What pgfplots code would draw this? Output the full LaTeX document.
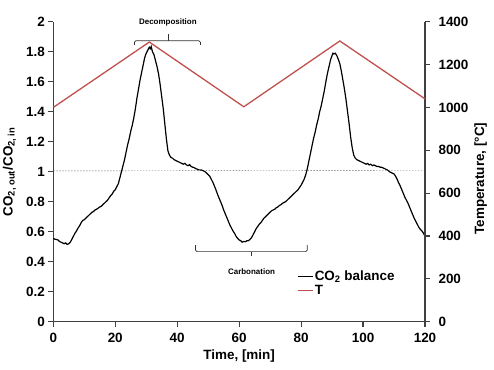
\documentclass[border=0pt]{standalone}
\usepackage{fontspec}
\setmainfont{Liberation Sans}
\usepackage{pgfplots}
\pgfplotsset{compat=1.18}
\definecolor{tred}{RGB}{192,80,77}
\definecolor{axgray}{RGB}{64,64,64}
\begin{document}
\begin{tikzpicture}
\useasboundingbox (-53.3bp,-48.3bp) rectangle (440.7bp,321.7bp);
\pgfplotsset{
 every axis/.append style={
  scale only axis, width=371.7bp, height=300bp, at={(0,0)}, anchor=south west,
  xmin=0, xmax=120,
  tick align=outside,
  major tick length=5bp,
  every tick/.style={axgray, line width=1.2pt},
  axis line style={axgray, line width=1.6pt},
  ticklabel style={font=\bfseries\fontsize{13.5}{16}\selectfont},
  label style={font=\bfseries\fontsize{13.5}{16}\selectfont},
  /pgf/number format/assume math mode=true,
  /pgf/number format/1000 sep={},
 }}
\begin{axis}[
  axis x line*=bottom, axis y line*=left,
  ymin=0, ymax=2,
  xtick={0,20,40,60,80,100,120},
  ytick={0,0.2,0.4,0.6,0.8,1,1.2,1.4,1.6,1.8,2},
  xticklabel style={yshift=-3bp},
  xlabel={Time, [min]},
  ylabel={CO\textsubscript{2, out}/CO\textsubscript{2, in}},
  y label style={at={(axis description cs:-0.118,0.5)}, anchor=center},
  clip=false,
]
\addplot[black!60, line width=0.4pt, dash pattern=on 1.5pt off 1.5pt] coordinates {(0,1.005) (120,1.01)};
\addplot[black, line width=1.2pt] coordinates {
(0,0.555)(0.5,0.55)(1,0.548)(1.5,0.545)(2,0.535)(2.5,0.53)(3,0.525)(3.5,0.52)(4,0.525)(4.5,0.515)
(5,0.52)(5.5,0.53)(6,0.55)(6.5,0.57)(7,0.59)(7.5,0.605)(8,0.625)(8.5,0.64)(9,0.66)(9.5,0.675)
(10,0.68)(10.5,0.69)(11,0.70)(11.5,0.71)(12,0.72)(12.5,0.73)(13,0.735)(13.5,0.745)(14,0.75)(14.5,0.757)
(15,0.765)(15.5,0.77)(16,0.78)(16.5,0.79)(17,0.80)(17.5,0.81)(18,0.825)(18.5,0.84)(19,0.85)(19.5,0.87)
(20,0.88)(20.5,0.90)(21,0.92)(21.5,0.96)(22,1.00)(22.5,1.04)(23,1.08)(23.5,1.13)(24,1.18)(24.5,1.22)
(25,1.27)(25.5,1.31)(26,1.36)(26.5,1.42)(27,1.49)(27.5,1.55)(28,1.61)(28.5,1.66)(29,1.71)(29.5,1.76)
(30,1.79)(30.5,1.81)(31,1.83)(31.3,1.82)(31.6,1.835)(32,1.80)(32.5,1.78)(33,1.74)(33.5,1.70)(34,1.65)
(34.5,1.58)(35,1.50)(35.5,1.42)(36,1.32)(36.5,1.22)(37,1.14)(37.5,1.11)(38,1.095)(38.5,1.09)(39,1.08)
(39.5,1.075)(40,1.07)(40.5,1.065)(41,1.06)(41.5,1.055)(42,1.05)(42.5,1.056)(43,1.045)(43.5,1.04)(44,1.047)
(44.5,1.035)(45,1.03)(45.5,1.027)(46,1.02)(46.5,1.017)(47,1.012)(47.5,1.012)(48,1.01)(48.5,1.005)(49,1.0)
(49.5,0.99)(50,0.98)(50.5,0.97)(51,0.95)(51.5,0.93)(52,0.905)(52.5,0.88)(53,0.85)(53.5,0.825)(54,0.80)
(54.5,0.775)(55,0.745)(55.5,0.72)(56,0.695)(56.5,0.67)(57,0.645)(57.5,0.625)(58,0.605)(58.5,0.59)(59,0.57)
(59.5,0.555)(60,0.545)(60.5,0.54)(61,0.53)(61.5,0.535)(62,0.533)(62.5,0.54)(63,0.54)(63.5,0.55)(64,0.56)
(64.5,0.58)(65,0.60)(65.5,0.62)(66,0.635)(66.5,0.65)(67,0.66)(67.5,0.675)(68,0.69)(68.5,0.70)(69,0.71)
(69.5,0.72)(70,0.73)(70.5,0.74)(71,0.745)(71.5,0.75)(72,0.76)(72.5,0.765)(73,0.775)(73.5,0.78)(74,0.79)
(74.5,0.795)(75,0.80)(75.5,0.81)(76,0.82)(76.5,0.83)(77,0.84)(77.5,0.85)(78,0.86)(78.5,0.87)(79,0.88)
(79.5,0.895)(80,0.91)(80.5,0.93)(81,0.95)(81.5,0.98)(82,1.02)(82.5,1.07)(83,1.12)(83.5,1.17)(84,1.22)
(84.5,1.26)(85,1.31)(85.5,1.35)(86,1.40)(86.5,1.44)(87,1.49)(87.5,1.54)(88,1.60)(88.5,1.655)(89,1.70)
(89.5,1.745)(90,1.775)(90.3,1.79)(90.6,1.785)(91,1.79)(91.5,1.775)(92,1.75)(92.5,1.72)(93,1.67)(93.5,1.61)
(94,1.55)(94.5,1.48)(95,1.40)(95.5,1.32)(96,1.23)(96.5,1.16)(97,1.11)(97.5,1.09)(98,1.08)(98.5,1.075)
(99,1.07)(99.5,1.065)(100,1.06)(100.5,1.055)(101,1.05)(101.5,1.055)(102,1.045)(102.5,1.05)(103,1.04)(103.5,1.045)
(104,1.04)(104.5,1.035)(105,1.035)(105.5,1.03)(106,1.03)(106.5,1.025)(107,1.02)(107.5,1.015)(108,1.01)(108.5,1.0)
(109,0.995)(109.5,0.99)(110,0.985)(110.5,0.97)(111,0.95)(111.5,0.925)(112,0.905)(112.5,0.88)(113,0.855)(113.5,0.83)
(114,0.81)(114.5,0.79)(115,0.765)(115.5,0.74)(116,0.715)(116.5,0.69)(117,0.67)(117.5,0.65)(118,0.63)(118.5,0.615)
(119,0.605)(119.5,0.59)(120,0.57)};
\draw[black!80, line width=0.7pt, rounded corners=1.5pt] (axis cs:26.2,1.845) -- (axis cs:26.2,1.873) -- (axis cs:47.5,1.873) -- (axis cs:47.5,1.845);
\draw[black!80, line width=0.7pt] (axis cs:37,1.873) -- (axis cs:37,1.92);
\node[font=\bfseries\fontsize{8}{9}\selectfont] at (axis cs:37,1.993) {Decomposition};
\draw[black!80, line width=0.7pt, rounded corners=1.5pt] (axis cs:45.9,0.51) -- (axis cs:45.9,0.467) -- (axis cs:82,0.467) -- (axis cs:82,0.51);
\draw[black!80, line width=0.7pt] (axis cs:64,0.467) -- (axis cs:64,0.438);
\node[font=\bfseries\fontsize{8}{9}\selectfont] at (axis cs:64,0.333) {Carbonation};
\end{axis}
\begin{axis}[
  axis y line*=right, axis x line=none,
  ymin=0, ymax=1400,
  ytick={0,200,400,600,800,1000,1200,1400},
  yticklabel style={xshift=5bp},
  ylabel={Temperature, [°C]},
  y label style={at={(axis description cs:1.15,0.477)}, anchor=center, rotate=0},
  legend style={draw=none, fill=none, at={(0.655,0.175)}, anchor=north west,
    font=\bfseries\fontsize{13.5}{16}\selectfont, inner sep=0pt, row sep=0pt,
    nodes={inner sep=1.5pt}},
  legend cell align=left,
  legend image code/.code={\draw[#1] (0cm,0cm) -- (15bp,0cm);},
]
\addlegendimage{black, line width=1.2pt}
\addlegendentry{CO\textsubscript{2} balance}
\addplot[tred, line width=1.3pt] coordinates {(0,1000) (31,1305) (61.5,1003) (92.5,1310) (120,1040)};
\addlegendentry{T}
\end{axis}
\end{tikzpicture}
\end{document}
